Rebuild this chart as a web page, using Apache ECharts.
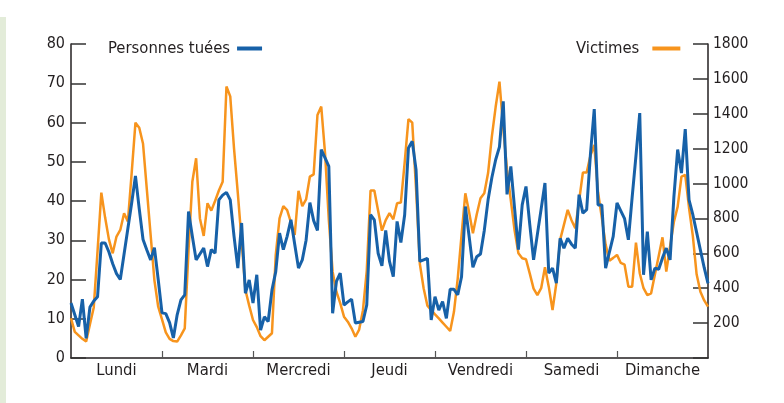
<!DOCTYPE html>
<html><head><meta charset="utf-8">
<script src="https://cdn.jsdelivr.net/npm/echarts@6/dist/echarts.min.js"></script>
<style>html,body{margin:0;padding:0;background:#fff;}#c{width:784px;height:403px;}</style>
</head><body><div id="c"></div>
<script>
const days = ['Lundi','Mardi','Mercredi','Jeudi','Vendredi','Samedi','Dimanche'];
const leftTicks = [0,10,20,30,40,50,60,70,80];
const rightTicks = [200,400,600,800,1000,1200,1400,1600,1800];
// hourly killed (Personnes tuées), Monday 0h .. Sunday 24h
const killedMon = [14, 11, 8, 15, 5, 13, 14.5, 15.6, 29.3, 29.3, 27, 24, 21.5, 20, 26.5, 33, 39.5, 46.4, 38, 30.2, 27.5, 25, 28.1, 20];
const killedTue = [11.5, 11.3, 9, 5.1, 11, 14.8, 16.1, 37.3, 31, 25, 26.5, 28, 23.3, 27.6, 26.7, 40.3, 41.5, 42.2, 40.3, 31, 22.9, 34.4, 16.5, 19.9];
const killedWed = [14, 21.2, 7.1, 10.5, 9.3, 17.3, 22, 31.8, 27.6, 31, 35.2, 29, 22.9, 25, 30, 39.6, 35, 32.5, 53.1, 51, 48.8, 11.4, 19.5, 21.6];
const killedThu = [13.5, 14.3, 15, 8.9, 9.1, 9.3, 13.5, 36.5, 35.2, 26.7, 23.5, 32.5, 24.6, 20.7, 34.8, 29.4, 36.5, 53.5, 55.2, 48, 24.6, 25, 25.4, 9.7];
const killedFri = [15.6, 12.2, 14.4, 10.1, 17.5, 17.5, 16.1, 20.7, 38.6, 31, 23.1, 25.8, 26.5, 32.5, 40.3, 46, 50.5, 53.8, 65.4, 41.7, 48.8, 38, 27.6, 39];
const killedSat = [43.7, 34, 25, 31.5, 38, 44.6, 21.6, 22.9, 19.1, 30.5, 28, 30.5, 29, 28, 41.6, 36.9, 37.8, 52, 63.4, 39, 39, 22.9, 27, 31];
const killedSun = [39.5, 37.5, 35.5, 30.1, 41, 51.5, 62.4, 21.2, 32.2, 19.9, 22.9, 22.6, 25.5, 28, 25, 41, 53.1, 47.1, 58.3, 40.3, 36.5, 32, 27.5, 23, 19];
// hourly victims (Victimes)
const victimsMon = [228, 150, 130, 110, 94, 194, 290, 613, 948, 805, 680, 600, 696, 734, 830, 782, 1060, 1349, 1320, 1228, 967, 706, 445, 294];
const victimsTue = [221, 147, 110, 97, 94, 130, 170, 620, 1010, 1145, 800, 700, 887, 845, 900, 960, 1011, 1556, 1500, 1200, 944, 670, 390, 300];
const victimsWed = [218, 177, 125, 102, 122, 142, 591, 800, 870, 848, 777, 705, 958, 870, 909, 1040, 1053, 1393, 1441, 1175, 790, 495, 380, 315];
const victimsThu = [237, 208, 170, 122, 163, 274, 500, 960, 960, 844, 730, 790, 830, 795, 887, 891, 1120, 1369, 1349, 970, 540, 400, 300, 274];
const victimsFri = [250, 227, 203, 179, 155, 265, 457, 705, 944, 835, 715, 823, 916, 944, 1060, 1270, 1440, 1584, 1317, 1078, 904, 730, 600, 572];
const victimsSat = [566, 484, 398, 361, 400, 520, 409, 275, 428, 677, 763, 849, 790, 744, 900, 1063, 1063, 1160, 1221, 950, 803, 650, 558, 574];
const victimsSun = [591, 545, 535, 409, 409, 661, 486, 400, 361, 371, 478, 585, 692, 495, 640, 780, 868, 1040, 1049, 860, 700, 480, 380, 330, 294];

const killed = [].concat(killedMon, killedTue, killedWed, killedThu, killedFri, killedSat, killedSun);
const victims = [].concat(victimsMon, victimsTue, victimsWed, victimsThu, victimsFri, victimsSat, victimsSun);
const hours = killed.map((_, i) => String(i));

const FONT = '"DejaVu Sans Condensed","Liberation Sans",sans-serif';
const TXT = '#231f20';
const BLUE = '#1761a8';
const ORANGE = '#f7941d';

const chart = echarts.init(document.getElementById('c'), null, {renderer: 'canvas'});
chart.setOption({
  animation: false,
  backgroundColor: '#fff',
  textStyle: {fontFamily: FONT},
  graphic: [{type: 'rect', left: 0, top: 17, shape: {width: 6, height: 386}, style: {fill: '#e3ecd9'}, silent: true}],
  legend: [
    {data: ['Personnes tuées'], left: 103, top: 35, align: 'right', icon: 'rect', itemWidth: 25, itemHeight: 4,
     textStyle: {fontFamily: FONT, fontSize: 16.5, color: TXT, padding: [0, 2, 0, 0]}},
    {data: ['Victimes'], left: 571, top: 35, align: 'right', icon: 'rect', itemWidth: 28, itemHeight: 4,
     textStyle: {fontFamily: FONT, fontSize: 16.5, color: TXT, padding: [0, 8, 0, 0]}}
  ],
  grid: {left: 71, right: 76, top: 44, bottom: 45, containLabel: false},
  xAxis: [
    {type: 'category', data: hours, boundaryGap: false,
     axisLine: {lineStyle: {color: TXT, width: 1.5}},
     axisTick: {inside: true, length: 7, lineStyle: {color: '#555', width: 1.2},
       interval: (i) => i % 24 === 0 && i > 0 && i < 168},
     axisLabel: {show: false}, splitLine: {show: false}},
    {type: 'category', data: days, boundaryGap: true, position: 'bottom',
     axisLine: {show: false}, axisTick: {show: false},
     axisLabel: {interval: 0, fontFamily: FONT, fontSize: 16.5, color: TXT, margin: 4}}
  ],
  yAxis: [
    {type: 'value', min: leftTicks[0], max: leftTicks[leftTicks.length - 1], interval: 10,
     axisLine: {show: true, lineStyle: {color: TXT, width: 1.5}},
     axisTick: {show: true, inside: true, length: 15, lineStyle: {color: '#333', width: 1.5}},
     axisLabel: {fontFamily: FONT, fontSize: 16, color: TXT, margin: 6},
     splitLine: {show: false}},
    {type: 'value', min: 0, max: rightTicks[rightTicks.length - 1], interval: 200,
     axisLine: {show: true, lineStyle: {color: TXT, width: 1.5}},
     axisTick: {show: true, inside: true, length: 15, lineStyle: {color: '#333', width: 1.5}},
     axisLabel: {fontFamily: FONT, fontSize: 15.5, color: TXT, margin: 5,
       formatter: (v) => (rightTicks.indexOf(v) >= 0 ? String(v) : '')},
     splitLine: {show: false}}
  ],
  series: [
    {name: 'Victimes', type: 'line', yAxisIndex: 1, xAxisIndex: 0, data: victims, showSymbol: false,
     lineStyle: {color: ORANGE, width: 2.5}, itemStyle: {color: ORANGE}, z: 2},
    {name: 'Personnes tuées', type: 'line', yAxisIndex: 0, xAxisIndex: 0, data: killed, showSymbol: false,
     lineStyle: {color: BLUE, width: 3}, itemStyle: {color: BLUE}, z: 3}
  ]
});
</script></body></html>
